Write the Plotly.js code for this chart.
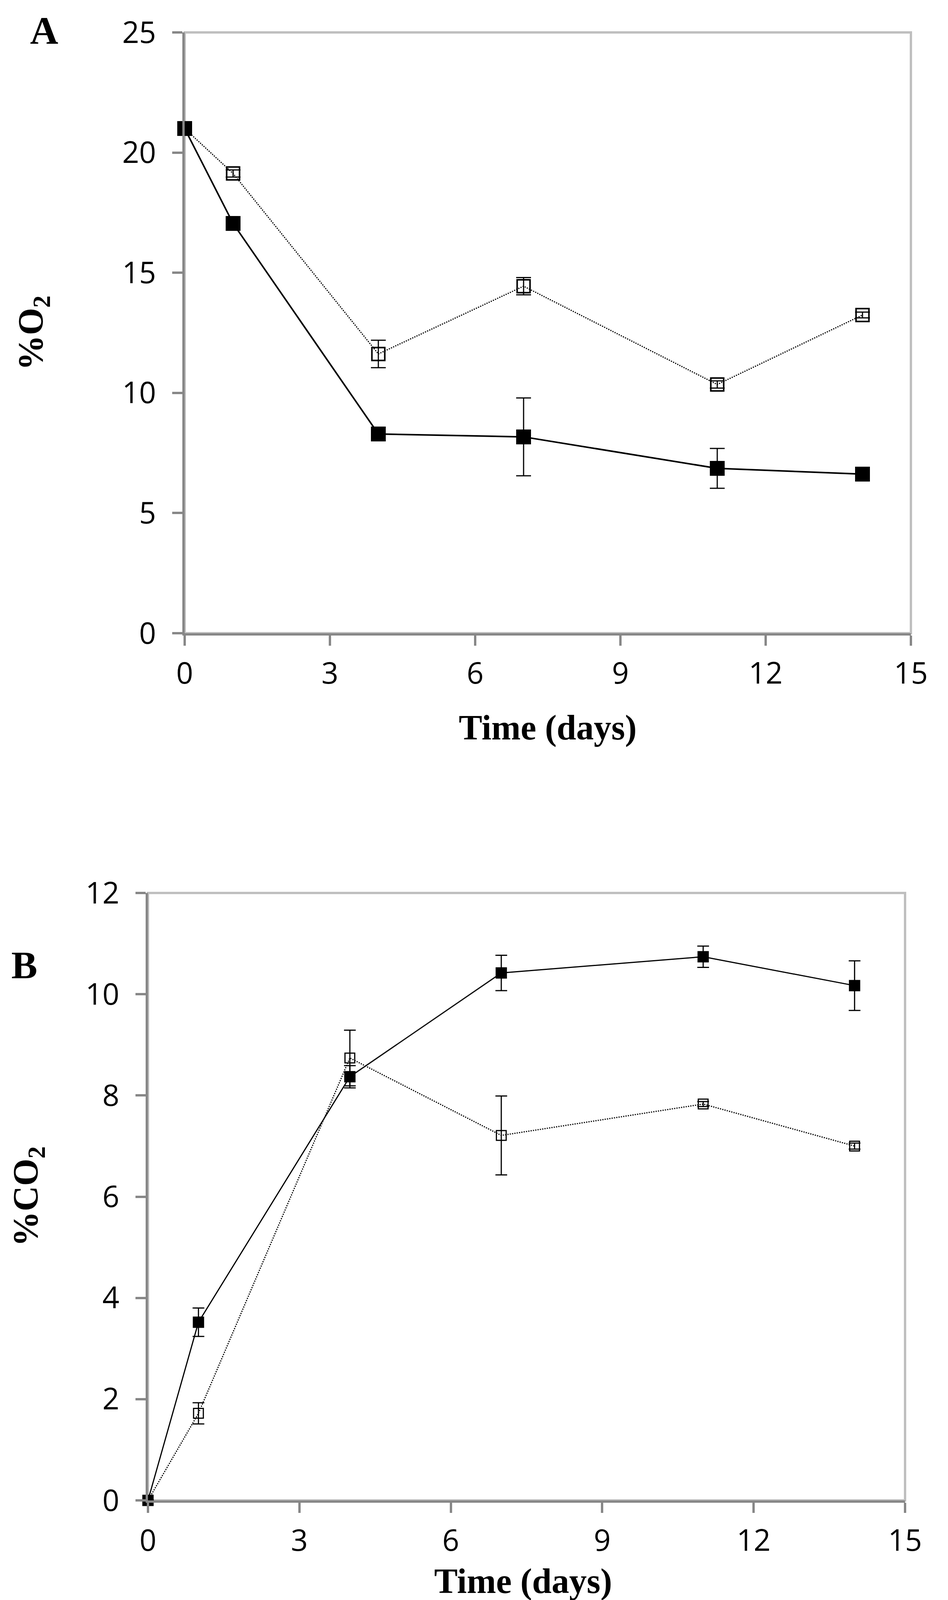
<!DOCTYPE html>
<html>
<head>
<meta charset="utf-8">
<script src="https://cdn.plot.ly/plotly-3.0.1.min.js"></script>
<style>
  html, body { margin: 0; padding: 0; background: #fff; }
  #chart { width: 2428px; height: 4168px; }
</style>
</head>
<body>
<div id="chart"></div>
<script>
// sampling days
var days = [0, 1, 4, 7, 11, 14];

// panel A, %O2
var o2Filled = [21.0, 17.05, 8.29, 8.17, 6.86, 6.62];
var o2FilledErr = [0.1, 0.12, 0.1, 1.62, 0.83, 0.1];
var o2Open = [21.0, 19.13, 11.62, 14.44, 10.35, 13.24];
var o2OpenErr = [0.1, 0.15, 0.57, 0.36, 0.15, 0.12];

// panel B, %CO2
var co2Filled = [0, 3.52, 8.37, 10.42, 10.74, 10.17];
var co2FilledErr = [0, 0.28, 0.22, 0.35, 0.21, 0.49];
var co2Open = [0, 1.72, 8.74, 7.21, 7.83, 7.0];
var co2OpenErr = [0, 0.21, 0.55, 0.78, 0.05, 0.06];

var xTicks = [0, 3, 6, 9, 12, 15];
var o2Ticks = [0, 5, 10, 15, 20, 25];
var co2Ticks = [0, 2, 4, 6, 8, 10, 12];

var W = 2428, H = 4168;
var axisGray = "#878787";
var borderGray = "#bfbfbf";
var tickFont = { family: "Open Sans, sans-serif", size: 76, color: "#000" };
var titleFont = { family: "Liberation Serif, Times New Roman, serif", size: 90, color: "#000" };

function series(x, y, err, filled, xa, ya, big) {
  var tr = {
    x: x,
    y: y,
    xaxis: xa,
    yaxis: ya,
    mode: "lines+markers",
    type: "scatter",
    cliponaxis: false,
    showlegend: false,
    error_y: {
      type: "data",
      array: err,
      visible: true,
      color: "#000",
      thickness: 3,
      width: big ? 19 : 15,
    },
  };
  if (filled) {
    tr.line = { color: "#000", width: big ? 4 : 3 };
    tr.marker = { symbol: "square", size: big ? 38 : 29, color: "#000", line: { width: 0 } };
  } else {
    tr.line = { color: "#000", width: 3, dash: "dot" };
    tr.marker = { symbol: "square-open", size: big ? 33 : 25, color: "#000", line: { width: big ? 4 : 3, color: "#000" } };
  }
  return tr;
}

var data = [
  series(days, o2Open, o2OpenErr, false, "x", "y", true),
  series(days, o2Filled, o2FilledErr, true, "x", "y", true),
  series(days, co2Open, co2OpenErr, false, "x2", "y2", false),
  series(days, co2Filled, co2FilledErr, true, "x2", "y2", false),
];

function xAxis(domain, anchor) {
  return {
    domain: domain,
    anchor: anchor,
    range: [0, 15],
    tickvals: xTicks,
    ticks: "outside",
    ticklen: 26,
    tickwidth: 6,
    tickcolor: axisGray,
    ticklabelstandoff: 6,
    showline: true,
    linecolor: axisGray,
    linewidth: 6,
    showgrid: false,
    zeroline: false,
    tickfont: tickFont,
    fixedrange: true,
  };
}

function yAxis(domain, anchor, range, vals) {
  return {
    domain: domain,
    anchor: anchor,
    range: range,
    tickvals: vals,
    ticks: "outside",
    ticklen: 26,
    tickwidth: 6,
    tickcolor: axisGray,
    ticklabelstandoff: 26,
    showline: true,
    linecolor: axisGray,
    linewidth: 6,
    showgrid: false,
    zeroline: false,
    tickfont: tickFont,
    fixedrange: true,
  };
}

// plot boxes in pixels, turned into paper fractions
var boxA = { l: 473, r: 2333, t: 83, b: 1621 };
var boxB = { l: 379, r: 2318, t: 2286, b: 3841 };

function xd(b) { return [b.l / W, b.r / W]; }
function yd(b) { return [1 - b.b / H, 1 - b.t / H]; }

// text placed by its centre, in pixels from the top-left corner
function label(text, px, py, font, angle) {
  return {
    text: text,
    x: px / W,
    y: 1 - py / H,
    xref: "paper",
    yref: "paper",
    xanchor: "center",
    yanchor: "middle",
    showarrow: false,
    textangle: angle || 0,
    font: font,
  };
}

var letterFont = { family: titleFont.family, size: 100, color: "#000" };

var layout = {
  width: W,
  height: H,
  margin: { l: 0, r: 0, t: 0, b: 0 },
  paper_bgcolor: "#fff",
  plot_bgcolor: "#fff",
  xaxis: xAxis(xd(boxA), "y"),
  yaxis: yAxis(yd(boxA), "x", [0, 25], o2Ticks),
  xaxis2: xAxis(xd(boxB), "y2"),
  yaxis2: yAxis(yd(boxB), "x2", [0, 12], co2Ticks),
  shapes: [
    { type: "rect", xref: "x domain", yref: "y domain", x0: 0, x1: 1, y0: 0, y1: 1, line: { color: borderGray, width: 6 }, layer: "below" },
    { type: "rect", xref: "x2 domain", yref: "y2 domain", x0: 0, x1: 1, y0: 0, y1: 1, line: { color: borderGray, width: 6 }, layer: "below" },
  ],
  annotations: [
    label("<b>A</b>", 113, 78, letterFont),
    label("<b>B</b>", 62, 2470, letterFont),
    label("<b>%O<sub>2</sub></b>", 85, 852, titleFont, -90),
    label("<b>%CO<sub>2</sub></b>", 72, 3063, titleFont, -90),
    label("<b>Time (days)</b>", 1403, 1863, titleFont),
    label("<b>Time (days)</b>", 1340, 4048, titleFont),
  ],
};

Plotly.newPlot("chart", data, layout, { displayModeBar: false, staticPlot: true });
</script>
</body>
</html>
